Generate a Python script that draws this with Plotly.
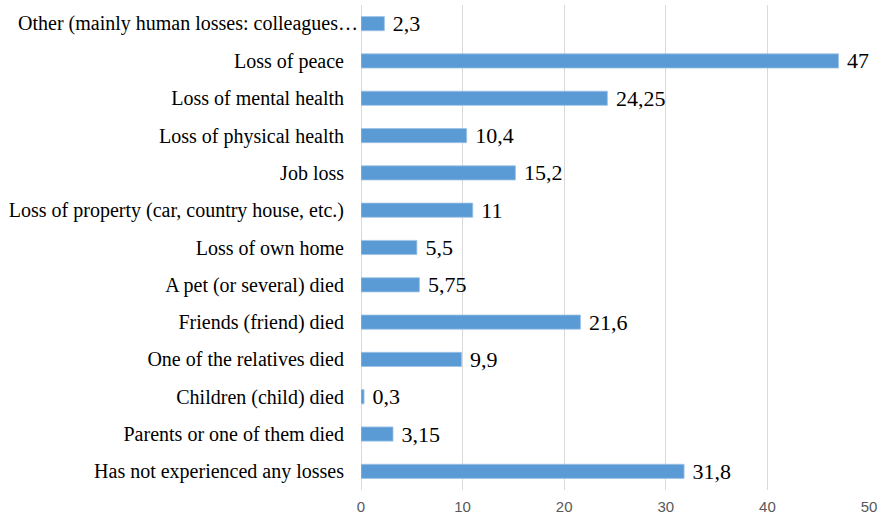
import plotly.graph_objects as go

categories = [
    "Other (mainly human losses: colleagues…",
    "Loss of peace",
    "Loss of mental health",
    "Loss of physical health",
    "Job loss",
    "Loss of property (car, country house, etc.)",
    "Loss of own home",
    "A pet (or several) died",
    "Friends (friend) died",
    "One of the relatives died",
    "Children (child) died",
    "Parents or one of them died",
    "Has not experienced any losses",
]
values = [2.3, 47, 24.25, 10.4, 15.2, 11, 5.5, 5.75, 21.6, 9.9, 0.3, 3.15, 31.8]
value_labels = ["2,3", "47", "24,25", "10,4", "15,2", "11", "5,5", "5,75", "21,6", "9,9", "0,3", "3,15", "31,8"]
x_ticks = [0, 10, 20, 30, 40, 50]

cat_font = dict(family="Liberation Serif", size=20, color="#000000")

fig = go.Figure(
    go.Bar(
        x=values,
        y=categories,
        orientation="h",
        text=[" " + t for t in value_labels],
        textposition="outside",
        constraintext="none",
        textfont=dict(family="Liberation Serif", size=22, color="#000000"),
        marker=dict(color="#5B9BD5", line=dict(color="#9DC3E6", width=0.8)),
        cliponaxis=False,
        hoverinfo="skip",
    )
)

# The truncated first label runs right up to the axis, as in the original
tick_text = [""] + categories[1:]
fig.add_annotation(
    x=0, y=categories[0], xref="x", yref="y",
    text=categories[0], showarrow=False,
    xanchor="right", yanchor="middle", xshift=-1,
    font=cat_font,
)

fig.update_layout(
    width=883,
    height=522,
    margin=dict(l=361, r=14, t=5, b=32),
    paper_bgcolor="white",
    plot_bgcolor="white",
    bargap=0.62,
    showlegend=False,
)
fig.update_xaxes(
    range=[0, 50],
    tickvals=x_ticks,
    showgrid=True,
    gridcolor="#D9D9D9",
    gridwidth=1,
    zeroline=True,
    zerolinecolor="#D9D9D9",
    zerolinewidth=1,
    showline=False,
    tickfont=dict(family="Liberation Sans", size=15, color="#595959"),
    ticks="",
    ticklabelstandoff=6,
    automargin=False,
    fixedrange=True,
)
fig.update_yaxes(
    categoryorder="array",
    categoryarray=categories[::-1],
    tickmode="array",
    tickvals=categories,
    ticktext=tick_text,
    showgrid=False,
    tickfont=cat_font,
    ticks="",
    ticklabelstandoff=16,
    automargin=False,
    fixedrange=True,
)

fig.write_html(
    "out.html",
    config={"displayModeBar": False},
    post_script="document.body.style.margin='0';document.body.style.overflow='hidden';",
)
